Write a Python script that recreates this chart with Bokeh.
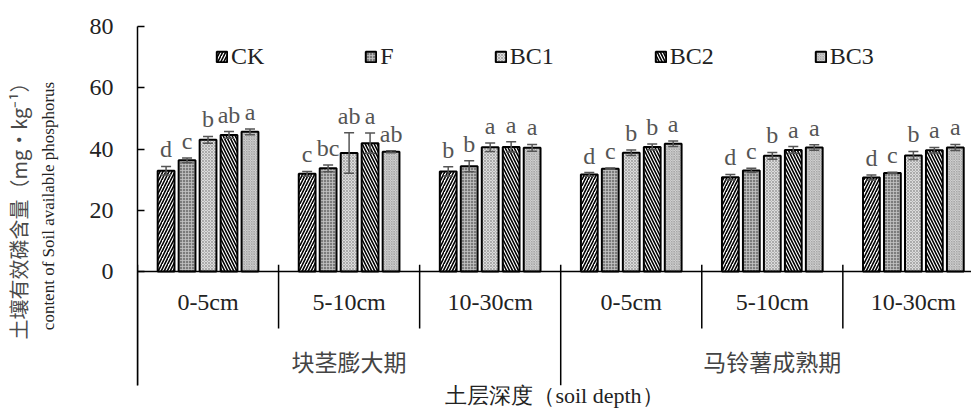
from bokeh.plotting import figure
from bokeh.models import (Range1d, FixedTicker, LinearAxis, ColumnDataSource, Whisker,
                          TeeHead, Legend, LegendItem, Span)
from bokeh.core.properties import value
from bokeh.embed import file_html
from bokeh.resources import INLINE

# ---------------- data ----------------
stages = ["块茎膨大期", "马铃薯成熟期"]
depths = ["0-5cm", "5-10cm", "10-30cm"]
treatments = ["CK", "F", "BC1", "BC2", "BC3"]

ck_mean = [32.9, 31.9, 32.7, 31.7, 30.8, 30.7]
f_mean = [36.3, 33.7, 34.4, 33.6, 33.0, 32.2]
bc1_mean = [43.0, 38.7, 40.6, 38.8, 37.8, 37.9]
bc2_mean = [44.6, 41.9, 40.7, 40.7, 39.7, 39.6]
bc3_mean = [45.6, 39.1, 40.4, 41.7, 40.5, 40.5]

ck_err = [1.4, 0.8, 1.5, 0.6, 0.9, 0.8]
f_err = [0.8, 1.1, 1.8, 0.2, 0.7, 0.2]
bc1_err = [1.1, 6.6, 1.4, 0.9, 1.1, 1.3]
bc2_err = [1.1, 3.3, 1.7, 0.9, 1.1, 0.9]
bc3_err = [0.9, 0.3, 1.1, 0.9, 0.9, 1.0]

ck_sig = ["d", "c", "b", "d", "d", "d"]
f_sig = ["c", "bc", "b", "c", "c", "c"]
bc1_sig = ["b", "ab", "a", "b", "b", "b"]
bc2_sig = ["ab", "a", "a", "b", "a", "a"]
bc3_sig = ["a", "ab", "a", "a", "a", "a"]

y_ticks = [0, 20, 40, 60, 80]

means = [ck_mean, f_mean, bc1_mean, bc2_mean, bc3_mean]
errs = [ck_err, f_err, bc1_err, bc2_err, bc3_err]
sigs = [ck_sig, f_sig, bc1_sig, bc2_sig, bc3_sig]

# ---------------- styles ----------------
SERIF = "Liberation Serif"
CJK = "Noto Sans CJK SC"
styles = [
    dict(fill_color="white", hatch_pattern="/", hatch_color="black", hatch_scale=6, hatch_weight=1.6),
    dict(fill_color="#7c7c7c", hatch_pattern="+", hatch_color="#c4c4c4", hatch_scale=3, hatch_weight=0.8),
    dict(fill_color="#dcdcdc", hatch_pattern="x", hatch_color="#8a8a8a", hatch_scale=3, hatch_weight=0.6),
    dict(fill_color="white", hatch_pattern="\\", hatch_color="black", hatch_scale=6, hatch_weight=1.6),
    dict(fill_color="#d4d4d4", hatch_pattern="x", hatch_color="#909090", hatch_scale=2.5, hatch_weight=0.6),
]

n_groups = len(stages) * len(depths)
step = 0.1487
bar_w = 0.119
y_low = -37.2

p = figure(width=971, height=410, output_backend="svg", toolbar_location=None,
           x_range=Range1d(0, 5.912), y_range=Range1d(y_low, 80),
           min_border_left=128, min_border_right=0, min_border_top=26, min_border_bottom=0)
p.grid.visible = False
p.outline_line_color = None
p.background_fill_color = "white"
p.border_fill_color = "white"

# y axis
ya = p.yaxis[0]
ya.ticker = FixedTicker(ticks=y_ticks)
ya.minor_tick_line_color = None
ya.major_tick_in = 7
ya.major_tick_out = 0
ya.axis_line_width = 1.5
ya.major_tick_line_width = 1.5
ya.axis_line_color = "black"
ya.major_tick_line_color = "black"
ya.major_label_text_font = SERIF
ya.major_label_text_font_size = "24px"
ya.major_label_text_color = "#222222"
ya.major_label_standoff = 24
ya.axis_label = "content of Soil available phosphorus"
ya.axis_label_text_font = SERIF
ya.axis_label_text_font_size = "17px"
ya.axis_label_text_font_style = "normal"
ya.axis_label_text_color = "#222222"
ya.axis_label_standoff = 29

ya2 = LinearAxis(ticker=FixedTicker(ticks=[]), axis_line_color=None,
                 major_tick_line_color=None, minor_tick_line_color=None,
                 major_label_text_font_size="0px",
                 axis_label="土壤有效磷含量（mg·kg⁻¹）",
                 axis_label_text_font=CJK, axis_label_text_font_size="20px",
                 axis_label_text_font_style="normal", axis_label_text_color="#4a4a4a",
                 axis_label_standoff=3)
p.add_layout(ya2, "left")

# x axis: only a title
xa = p.xaxis[0]
xa.ticker = FixedTicker(ticks=[])
xa.axis_line_color = None
xa.major_tick_line_color = None
xa.minor_tick_line_color = None
xa.major_label_text_font_size = "0px"
xa.axis_label = "土层深度（soil depth）"
xa.axis_label_text_font = SERIF
xa.axis_label_text_font_size = "22px"
xa.axis_label_text_font_style = "normal"
xa.axis_label_text_color = "#222222"
xa.axis_label_standoff = -3

# baseline at 0
p.add_layout(Span(location=0, dimension="width", line_color="black", line_width=1.5))

# bars
items = []
for t, name in enumerate(treatments):
    xs = [g + 0.5 + (t - 2) * step for g in range(n_groups)]
    up = [m + e for m, e in zip(means[t], errs[t])]
    lo = [m - e for m, e in zip(means[t], errs[t])]
    src = ColumnDataSource(dict(x=xs, top=means[t], upper=up, lower=lo, sig=sigs[t]))
    r = p.vbar(x="x", top="top", width=bar_w, bottom=0, source=src,
               line_color="black", line_width=2, **styles[t])
    items.append(LegendItem(label=name, renderers=[r]))
    w = Whisker(source=src, base="x", upper="upper", lower="lower",
                line_color="#555555", line_width=1.5, level="overlay",
                upper_head=TeeHead(size=10, line_color="#555555", line_width=1.5),
                lower_head=TeeHead(size=10, line_color="#555555", line_width=1.5))
    p.add_layout(w)
    p.text(x="x", y="upper", text="sig", source=src, text_align="center",
           text_baseline="bottom", y_offset=-4, text_font=value(SERIF),
           text_font_size="24px", text_color="#555555")

# group separators
n_d = len(depths)
short_x = [i for i in range(1, n_groups) if i % n_d != 0]
long_x = [i for i in range(0, n_groups) if i % n_d == 0]
p.segment(x0=short_x, y0=[2.2] * len(short_x), x1=short_x, y1=[-18.6] * len(short_x),
          line_color="black", line_width=1.5)
p.segment(x0=long_x, y0=[2.2] * len(long_x), x1=long_x, y1=[y_low] * len(long_x),
          line_color="black", line_width=1.5)

# depth labels and stage labels
depth_x = [g + 0.5 for g in range(n_groups)]
depth_lab = depths * len(stages)
p.text(x=depth_x, y=[-10.1] * n_groups, text=depth_lab, text_align="center",
       text_baseline="middle", text_font=value(SERIF), text_font_size="24px",
       text_color="#222222")
stage_x = [s * n_d + n_d / 2 for s in range(len(stages))]
p.text(x=stage_x, y=[-29.1] * len(stages), text=stages, text_align="center",
       text_baseline="middle", text_font=value(CJK), text_font_size="23px",
       text_color="#444444")

legend = Legend(items=items, orientation="horizontal", location=(78, 315),
                spacing=100, glyph_width=13, glyph_height=13, label_standoff=3,
                label_width=5,
                label_text_font=SERIF, label_text_font_size="24px",
                label_text_color="#222222",
                border_line_color=None, background_fill_alpha=0, padding=0, margin=0)
p.add_layout(legend)

open("out.html", "w").write(file_html(p, INLINE))
